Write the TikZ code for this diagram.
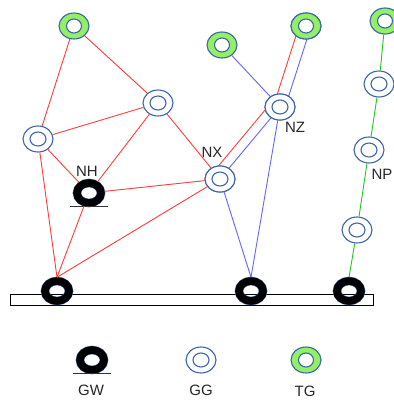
\documentclass[tikz,border=0pt]{standalone}
\usepackage{fontspec}
\setmainfont{Liberation Sans}
\usetikzlibrary{shapes.geometric}
\definecolor{ringblue}{RGB}{60,100,170}
\definecolor{ringgreen}{RGB}{145,240,100}
\definecolor{linered}{RGB}{255,60,60}
\definecolor{lineblue}{RGB}{100,100,255}
\definecolor{linegreen}{RGB}{30,200,30}

\begin{document}
\begin{tikzpicture}[x=1pt,y=-1pt,
	gg/.style={ellipse,draw=ringblue,line width=1.1pt,fill=white,minimum width=30pt,minimum height=26pt,inner sep=0pt,
		path picture={\draw[ringblue,line width=1.1pt] (path picture bounding box.center) ellipse (8pt and 7pt);}},
	tg/.style={ellipse,draw=ringblue,line width=1.1pt,fill=ringgreen,minimum width=30pt,minimum height=26pt,inner sep=0pt,
		path picture={\filldraw[draw=ringblue,line width=1.1pt,fill=white] (path picture bounding box.center) ellipse (7.5pt and 7pt);}},
	gw/.style={ellipse,draw=black,line width=7.5pt,minimum width=24pt,minimum height=20pt,inner sep=0pt,
		preaction={draw=ringblue,line width=8.5pt}},
	lab/.style={font=\fontsize{15}{18}\selectfont,text=black!85,inner sep=0pt},
	red/.style={draw=linered,line width=0.9pt},
	blue/.style={draw=lineblue,line width=0.9pt},
	green/.style={draw=linegreen,line width=0.9pt}
	]
	\useasboundingbox (0,0) rectangle (393,401);
	\draw[fill=white,line width=1pt] (10,294) rectangle (373,305);

	\node[tg] (T1) at (74,26) {};
	\node[gg] (A) at (38,139) {};
	\node[gg] (B) at (158,103) {};
	\node[gw] (NH) at (89,193) {};
	\node[gg] (NX) at (220,179) {};
	\node[tg] (T2) at (222,45) {};
	\node[tg] (T3) at (306,26) {};
	\node[gg] (NZ) at (280,107) {};
	\node[tg] (T4) at (385,21) {};
	\node[gg] (P1) at (379,84) {};
	\node[gg] (NP) at (369,150) {};
	\node[gg] (P3) at (357,230) {};
	\node[gw] (G1) at (57,291) {};
	\node[gw] (G2) at (251,291) {};
	\node[gw] (G3) at (349,291) {};

	\node[lab] (lNH) at (87,171) {NH};
	\node[lab] (lNX) at (212,152) {NX};
	\node[lab] (lNZ) at (295,127) {NZ};
	\node[lab] (lNP) at (382,174) {NP};
	\draw[black!80,line width=1.2pt] ([xshift=-19pt]NH.south) -- ([xshift=19pt]NH.south);

	\draw[red] (T1) -- (A);
	\draw[red] (T1) -- (B);
	\draw[red] (A) -- (B);
	\draw[red] (A) -- (NH);
	\draw[red] (A) -- (G1.north);
	\draw[red] (B) -- (NH);
	\draw[red] (B) -- (NX);
	\draw[red] (NH) -- (NX);
	\draw[red] (NH) -- (G1.north);
	\draw[red] (NX) -- (G1.north);
	\draw[red] ([xshift=-7.3pt,yshift=6.1pt]NX.center) -- ([xshift=-7.3pt,yshift=6.1pt]NZ.center);
	\draw[red] ([xshift=-6.2pt,yshift=2pt]NZ.center) -- ([xshift=-6.2pt,yshift=2pt]T3.center);

	\draw[blue] (T2) -- (NZ);
	\draw[blue] (NX) -- (NZ);
	\draw[blue] ([xshift=4.7pt,yshift=-1.5pt]NZ.center) -- ([xshift=4.7pt,yshift=-1.5pt]T3.center);
	\draw[blue] (NX) -- (G2.north);
	\draw[blue] (NZ) -- (G2.north);

	\draw[green] (T4) -- (P1);
	\draw[green] (P1) -- (NP);
	\draw[green] (NP) -- (P3);
	\draw[green] (P3) -- (G3.north);

	% rings again over the paired lines
	\node[gg] (NXtop) at (NX) {};
	\node[gg] (NZtop) at (NZ) {};
	\node[tg] (T3top) at (T3) {};

	% legend
	\node[gw] (kGW) at (92,360) {};
	\draw[black!80,line width=1.2pt] ([xshift=-19pt]kGW.south) -- ([xshift=19pt]kGW.south);
	\node[gg] (kGG) at (201,360) {};
	\node[tg] (kTG) at (306,360) {};
	\node[lab] (lGW) at (91,390) {GW};
	\node[lab] (lGG) at (201,390) {GG};
	\node[lab] (lTG) at (305,391) {TG};
\end{tikzpicture}
\end{document}
